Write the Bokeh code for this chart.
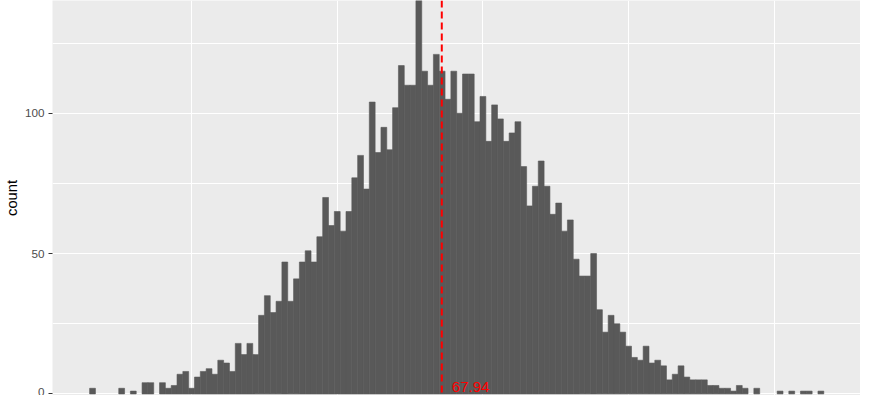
from bokeh.plotting import figure
from bokeh.models import Range1d, FixedTicker, Span, ColumnDataSource
from bokeh.core.properties import value
from bokeh.embed import file_html
from bokeh.resources import INLINE

# ---- data (binwidth 1, bins centred on integers) ----
bin_centers = list(range(8, 134))
counts = [
    2, 0, 0, 0, 0, 2, 0, 1, 0, 4,          # 8-17
    4, 0, 4, 2, 3, 7, 8, 2, 6, 8,          # 18-27
    9, 7, 12, 11, 8, 18, 14, 18, 14, 28,   # 28-37
    35, 29, 33, 47, 33, 41, 47, 51, 47, 56,  # 38-47
    70, 60, 65, 58, 65, 77, 85, 73, 104, 86,  # 48-57
    95, 87, 102, 117, 110, 110, 142, 115, 110, 121,  # 58-67
    115, 105, 115, 100, 114, 114, 97, 106, 90, 103,  # 68-77
    98, 90, 93, 97, 81, 67, 74, 83, 74, 64,  # 78-87
    68, 58, 62, 48, 42, 42, 50, 30, 22, 28,  # 88-97
    25, 22, 17, 13, 12, 17, 11, 12, 10, 5,   # 98-107
    7, 10, 6, 5, 5, 5, 3, 3, 2, 2,           # 108-117
    1, 3, 2, 0, 2, 0, 0, 0, 1, 0,            # 118-127
    1, 0, 1, 1, 0, 1,                        # 128-133
]
mean_value = 67.94
mean_label = f"{mean_value:.2f}"

y_major_ticks = [0, 50, 100]
y_minor_ticks = [25, 75, 125]
x_major_ticks = [0, 50, 100, 150]
x_minor_ticks = [25, 75, 125]

FONT = "Liberation Sans"
BAR = "#595959"

p = figure(
    width=860, height=395,
    output_backend="svg", toolbar_location=None,
    x_range=Range1d(1.13, 139.8), y_range=Range1d(-0.57, 140.2),
    x_axis_location=None,
    min_border_left=45, min_border_right=0, min_border_top=0, min_border_bottom=0,
    background_fill_color="#EBEBEB", border_fill_color="white",
)
p.outline_line_color = None

# grid
p.xgrid.ticker = FixedTicker(ticks=x_major_ticks, minor_ticks=x_minor_ticks)
p.ygrid.ticker = FixedTicker(ticks=y_major_ticks, minor_ticks=y_minor_ticks)
for g in (p.xgrid, p.ygrid):
    g.grid_line_color = "white"
    g.grid_line_width = 1.1
    g.minor_grid_line_color = "white"
    g.minor_grid_line_width = 1.0

# y axis
ya = p.yaxis[0]
ya.ticker = FixedTicker(ticks=y_major_ticks, minor_ticks=y_minor_ticks)
ya.axis_line_color = None
ya.major_tick_line_color = "#333333"
ya.major_tick_out = 4
ya.major_tick_in = 0
ya.minor_tick_line_color = None
ya.major_label_text_font = FONT
ya.major_label_text_font_size = "11.7px"
ya.major_label_text_color = "#4D4D4D"
ya.major_label_standoff = 4
ya.axis_label = "count"
ya.axis_label_text_font = FONT
ya.axis_label_text_font_size = "14.7px"
ya.axis_label_text_font_style = "normal"
ya.axis_label_text_color = "black"
ya.axis_label_standoff = 2

# bars: only non-empty bins are drawn; stroke in the fill colour removes seams
nonzero = [(c, n) for c, n in zip(bin_centers, counts) if n > 0]
bars = ColumnDataSource(data=dict(x=[c for c, _ in nonzero], top=[n for _, n in nonzero]))
p.vbar(x="x", top="top", bottom=0, width=1.0, source=bars,
       fill_color=BAR, line_color=BAR, line_width=0.6)

# mean line and label
p.add_layout(Span(location=mean_value, dimension="height", line_color="red",
                  line_width=2, line_dash="7 4"))
p.text(x=[mean_value], y=[2.5], text=[mean_label], x_offset=10,
       text_color="red", text_font=value(FONT), text_font_size="15px",
       text_baseline="alphabetic", text_align="left")

open("out.html", "w").write(file_html(p, INLINE))
